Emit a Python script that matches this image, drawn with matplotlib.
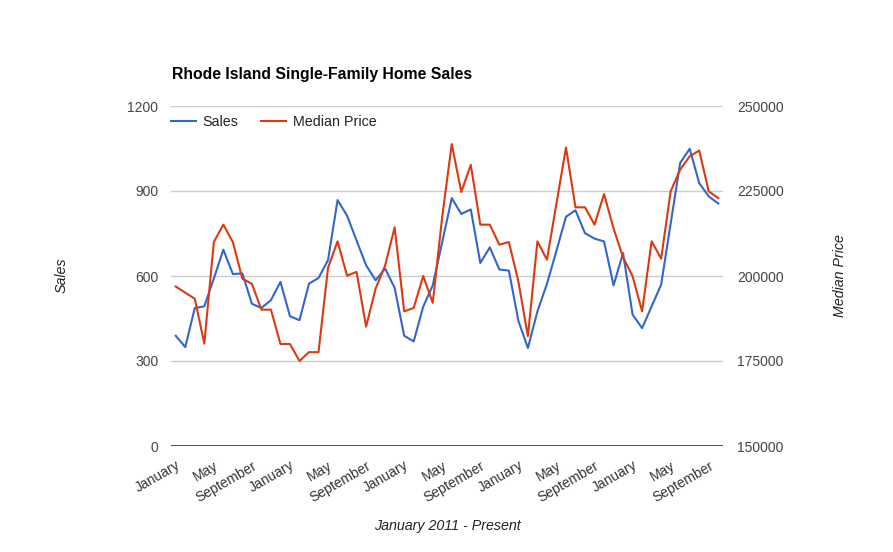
import numpy as np
import matplotlib
matplotlib.use('Agg')
import matplotlib.pyplot as plt

plt.rcParams['font.family'] = ['Liberation Sans', 'DejaVu Sans']

# monthly, January 2011 - October 2015
sales = [389, 349, 487, 493, 591, 693, 607, 609, 502, 487, 515, 579,
         458, 444, 573, 593, 656, 868, 813, 725, 638, 585, 626, 558,
         389, 369, 492, 567, 720, 875, 819, 835, 646, 701, 623, 619,
         442, 346, 475, 572, 689, 809, 832, 751, 732, 722, 567, 681,
         464, 416, 493, 569, 785, 999, 1049, 928, 881, 856]
median_price = [196900, 195100, 193300, 180100, 210000, 215100, 210000, 199200,
                197700, 190100, 190100, 180000, 180000, 175000, 177600, 177600,
                202400, 210200, 200100, 201200, 185100, 196300, 203100, 214300,
                189600, 190600, 200000, 192100, 217500, 238800, 224700, 232700,
                215100, 215100, 209200, 210000, 198400, 182300, 210200, 204800,
                221300, 237800, 220200, 220200, 215100, 224100, 214000, 205500,
                199900, 189600, 210200, 205100, 224900, 231300, 235200, 236900,
                224900, 222900]
tick_labels = ['January', 'May', 'September'] * 5
sales_ticks = [0, 300, 600, 900, 1200]
price_ticks = [150000, 175000, 200000, 225000, 250000]

blue = '#3366cc'
red = '#dc3912'
txt = '#444444'

x = np.arange(len(sales))

fig = plt.figure(figsize=(8.93, 5.52), dpi=100)
ax = fig.add_axes([171 / 893, 1 - 446 / 552, 552 / 893, 340 / 552])
ax2 = ax.twinx()

l1, = ax.plot(x, sales, color=blue, lw=1.5, label='Sales', zorder=3)
l2, = ax2.plot(x, median_price, color=red, lw=1.5, label='Median Price', zorder=3)

ax.set_xlim(-0.5, len(sales) - 0.5)
ax.set_ylim(0, 1200)
ax2.set_ylim(150000, 250000)
ax.set_yticks(sales_ticks)
ax2.set_yticks(price_ticks)
ax.set_xticks(x[::4])
ax.set_xticklabels(tick_labels, rotation=30, ha='right', va='top',
                   rotation_mode='anchor')

ax.grid(axis='y', color='#cccccc', lw=1)
ax.set_axisbelow(True)
ax.axhline(0, color='#333333', lw=1.2, zorder=2)

for a in (ax, ax2):
    for s in a.spines.values():
        s.set_visible(False)
    a.tick_params(length=0, labelsize=10, labelcolor=txt)
ax.tick_params(axis='y', pad=9)
ax.tick_params(axis='x', pad=9, labelcolor='#333333')
ax2.tick_params(axis='y', pad=10)

fig.text(172 / 893, 1 - 75 / 552, 'Rhode Island Single-Family Home Sales',
         fontsize=11.3, fontweight='bold', color='black', va='center')
fig.text(62 / 893, 1 - 275 / 552, 'Sales', rotation=90, style='italic',
         fontsize=10.3, color='#222222', ha='center', va='center')
fig.text(840 / 893, 1 - 276 / 552, 'Median Price', rotation=90, style='italic',
         fontsize=10.3, color='#222222', ha='center', va='center')
fig.text(447 / 893, 1 - 526 / 552, 'January 2011 - Present', style='italic',
         fontsize=10.3, color='#222222', ha='center', va='center')

leg = fig.legend([l1, l2], ['Sales', 'Median Price'], ncol=2, frameon=False,
                 loc='center left', bbox_to_anchor=(171 / 893, 1 - 122 / 552),
                 fontsize=10.3, handlelength=1.75, handletextpad=0.45,
                 columnspacing=1.6, borderaxespad=0, borderpad=0)
for t in leg.get_texts():
    t.set_color('#222222')

fig.savefig('out.png', dpi=100)
